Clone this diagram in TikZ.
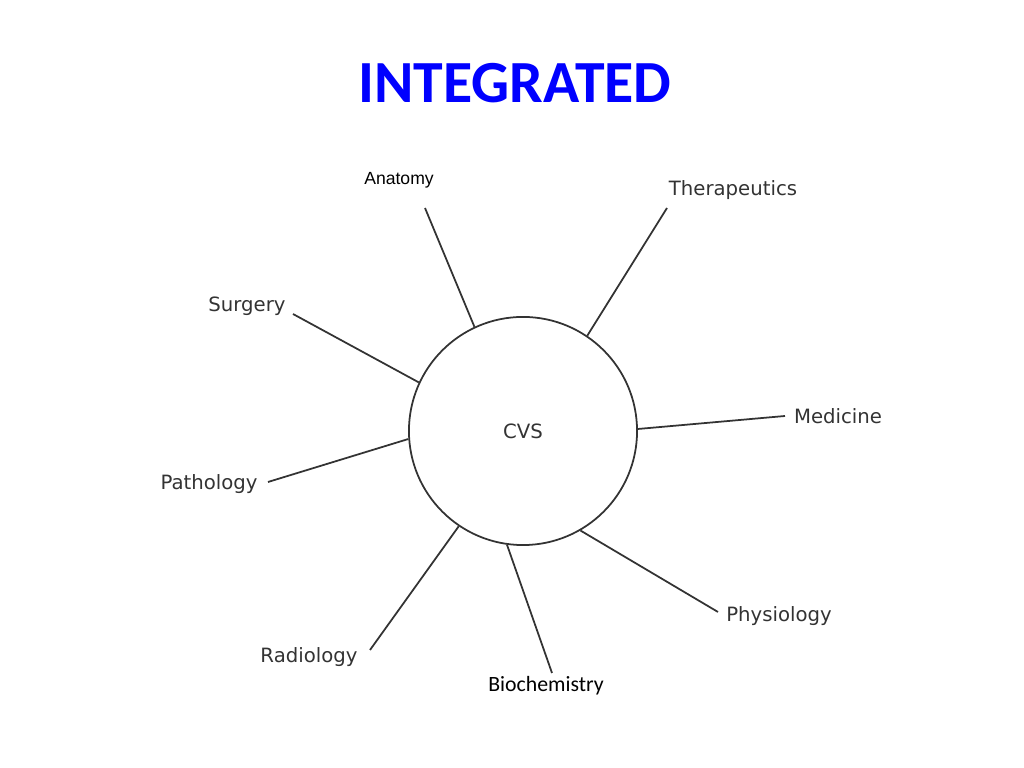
\documentclass[tikz,border=0pt]{standalone}
\usepackage{fontspec}
\setmainfont{DejaVu Sans}
\newfontfamily\calfont{Carlito}
\newfontfamily\arialfont{Liberation Sans}
\begin{document}
\begin{tikzpicture}[x=0.01cm, y=-0.01cm, line width=0.5pt,
  subj/.style={font=\fontsize{5.6}{6}\selectfont, text=black!80},
  spoke/.style={draw=black!80}]

\useasboundingbox (0,0) rectangle (1024,768);

% Title
\node (title) at (515,83) {\calfont\bfseries\fontsize{17}{20}\selectfont\color{blue}INTEGRATED};

% Central circle
\node [draw=black!80, circle, minimum size=2.28cm, subj] (cvs) at (523,431) {CVS};

% Subject labels
\node [font=\arialfont\fontsize{5}{6}\selectfont] (anat) at (399,180) {Anatomy};
\node [subj] (ther) at (733,190) {Therapeutics};
\node [subj] (surg) at (247,306) {Surgery};
\node [subj] (med) at (838,416) {Medicine};
\node [subj] (path) at (209,484) {Pathology};
\node [subj] (rad) at (309,657) {Radiology};
\node [subj] (phys) at (779,616) {Physiology};
\node [font=\calfont\fontsize{6.2}{7}\selectfont] (bio) at (546,686) {Biochemistry};

% Free ends of the spokes
\coordinate (anatE) at (425,208);
\coordinate (therE) at (667,208);
\coordinate (surgE) at (293,314);
\coordinate (medE) at (785,416);
\coordinate (pathE) at (268,482);
\coordinate (radE) at (370,650);
\coordinate (physE) at (718,612);
\coordinate (bioE) at (552,673);

% Spokes
\foreach \a/\e in {115/anatE, 56/therE, 155/surgE, 1/medE, 184/pathE, 236/radE, 300/physE, 262/bioE}
  \draw [spoke] (cvs.\a) -- (\e);

\end{tikzpicture}
\end{document}
